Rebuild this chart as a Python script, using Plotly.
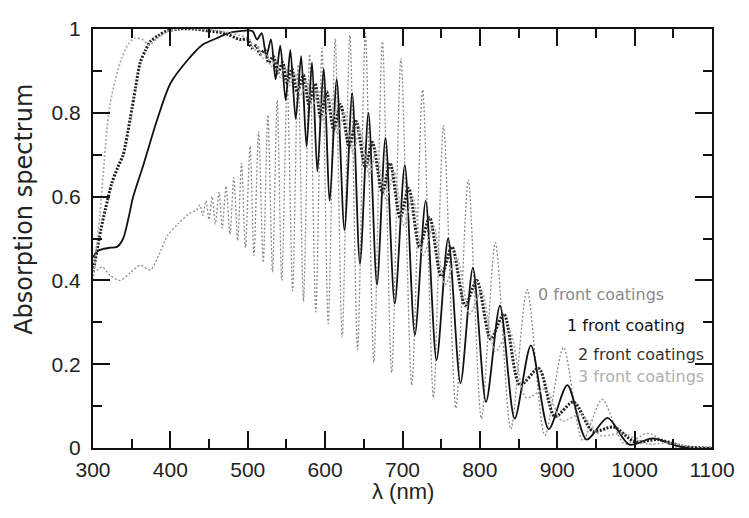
import plotly.graph_objects as go

# ---- data (wavelength nm, absorption) ----
lam0 = [300, 306, 312, 322, 335, 348, 361, 374, 385, 396, 410, 425, 434,
        438, 442, 446, 450, 454, 458, 463, 467, 472, 477, 482, 487, 492, 497,
        503, 508, 514, 520, 526, 532, 538, 544, 551, 558, 565, 572, 580, 588,
        596, 604, 613, 622, 632, 642, 652, 663, 674, 686, 698, 712, 726, 740,
        753, 769, 785, 802, 820, 840, 861, 884, 908, 933, 958, 987, 1017, 1050, 1100]
abs0 = [0.42, 0.425, 0.432, 0.412, 0.40, 0.418, 0.436, 0.425, 0.46, 0.506, 0.535, 0.56, 0.568,
        0.58, 0.555, 0.59, 0.545, 0.60, 0.535, 0.61, 0.525, 0.625, 0.51, 0.645, 0.495, 0.68, 0.478,
        0.72, 0.46, 0.755, 0.443, 0.795, 0.42, 0.83, 0.40, 0.87, 0.375, 0.915, 0.35, 0.94, 0.325,
        0.955, 0.297, 0.977, 0.265, 0.985, 0.235, 0.99, 0.205, 0.97, 0.18, 0.93, 0.15, 0.855, 0.12,
        0.77, 0.095, 0.64, 0.07, 0.49, 0.045, 0.378, 0.03, 0.24, 0.018, 0.116, 0.01, 0.035, 0.004, 0.0]

lam1 = [300, 306, 313, 322, 331, 339, 346, 352, 365, 383, 400, 421, 442, 460, 475, 490,
        506, 512, 518, 524, 530, 536, 542, 549, 555, 562, 569, 576, 583, 590, 598, 606,
        615, 625, 635, 645, 656, 667, 678, 690, 703, 716, 730, 744, 759, 775, 791, 808,
        826, 845, 866, 889, 913, 938, 965, 993, 1023, 1060, 1100]
abs1 = [0.455, 0.47, 0.475, 0.478, 0.48, 0.50, 0.55, 0.60, 0.675, 0.784, 0.87, 0.923, 0.963, 0.978, 0.99, 0.995,
        0.995, 0.975, 0.99, 0.935, 0.975, 0.88, 0.96, 0.83, 0.95, 0.785, 0.935, 0.72, 0.92, 0.66, 0.905, 0.59,
        0.88, 0.52, 0.847, 0.44, 0.80, 0.39, 0.74, 0.345, 0.675, 0.27, 0.59, 0.21, 0.50, 0.155, 0.43, 0.11,
        0.34, 0.07, 0.245, 0.045, 0.15, 0.02, 0.072, 0.008, 0.023, 0.003, 0.0]

lam2 = [300, 305, 310, 316, 324, 332, 339, 348, 355, 361, 368, 374, 385, 395, 410, 430, 450, 470, 490,
        500, 505, 511, 516, 522, 527, 533, 539, 545, 551, 557, 564, 572, 579, 587, 594, 602, 611,
        620, 631, 640, 652, 661, 674, 684, 697, 708, 722, 735, 750, 764, 781, 796, 814, 831, 852,
        876, 897, 921, 946, 973, 1000, 1030, 1065, 1100]
abs2 = [0.42, 0.47, 0.52, 0.57, 0.63, 0.67, 0.70, 0.785, 0.86, 0.92, 0.95, 0.97, 0.985, 0.995, 1.0, 1.0, 0.995, 0.99, 0.975,
        0.975, 0.955, 0.96, 0.94, 0.95, 0.92, 0.935, 0.895, 0.92, 0.87, 0.905, 0.85, 0.89, 0.82, 0.87, 0.79, 0.85, 0.76,
        0.82, 0.72, 0.78, 0.67, 0.73, 0.61, 0.68, 0.55, 0.62, 0.48, 0.55, 0.41, 0.48, 0.34, 0.40, 0.26, 0.32, 0.15,
        0.19, 0.075, 0.11, 0.04, 0.05, 0.015, 0.02, 0.003, 0.0]

lam3 = [300, 305, 309, 313, 318, 322, 329, 337, 346, 354, 364, 372, 383, 395, 410, 440, 465, 490,
        503, 508, 514, 519, 525, 530, 536, 542, 548, 554, 561, 568, 576, 583, 591, 598, 607, 616,
        625, 636, 645, 657, 666, 679, 689, 702, 713, 727, 740, 755, 770, 787, 802, 820, 838, 860,
        885, 906, 930, 956, 986, 1015, 1045, 1075, 1100]
abs3 = [0.40, 0.49, 0.56, 0.65, 0.76, 0.82, 0.88, 0.93, 0.965, 0.978, 0.975, 0.962, 0.977, 0.993, 1.0, 1.0, 0.995, 0.985,
        0.975, 0.95, 0.955, 0.93, 0.94, 0.91, 0.925, 0.885, 0.91, 0.865, 0.895, 0.84, 0.875, 0.81, 0.855, 0.78, 0.835, 0.75,
        0.80, 0.705, 0.76, 0.65, 0.71, 0.59, 0.66, 0.53, 0.60, 0.46, 0.53, 0.39, 0.455, 0.32, 0.375, 0.23, 0.28, 0.12,
        0.14, 0.065, 0.08, 0.03, 0.035, 0.01, 0.012, 0.002, 0.0]

labels = ["0 front coatings", "1 front coating", "2 front coatings", "3 front coatings"]
label_x = [872, 910, 924, 924]
label_y = [0.367, 0.292, 0.222, 0.170]
label_colors = ["#8a8a8a", "#111111", "#333333", "#b0b0b0"]

x_ticks = [300, 400, 500, 600, 700, 800, 900, 1000, 1100]
y_ticks = [0, 0.2, 0.4, 0.6, 0.8, 1]
y_ticktext = ["0", "0.2", "0.4", "0.6", "0.8", "1"]

fig = go.Figure()
styles = [
    dict(color="#8a8a8a", width=1.3, dash="2px,2px"),
    dict(color="#111111", width=1.8, dash="solid"),
    dict(color="#222222", width=3.0, dash="2px,1.5px"),
    dict(color="#a8a8a8", width=1.7, dash="2px,2px"),
]
for lam, ab, st, name in [(lam0, abs0, styles[0], labels[0]), (lam1, abs1, styles[1], labels[1]),
                          (lam2, abs2, styles[2], labels[2]), (lam3, abs3, styles[3], labels[3])]:
    fig.add_trace(go.Scatter(x=lam, y=ab, mode="lines", name=name,
                             line=dict(shape="spline", smoothing=0.8, **st)))

for t, x, y, c in zip(labels, label_x, label_y, label_colors):
    fig.add_annotation(x=x, y=y, xref="x", yref="y", text=t, showarrow=False,
                       xanchor="left", yanchor="middle",
                       font=dict(family="DejaVu Sans, sans-serif", size=16, color=c))

# axis titles
fig.add_annotation(x=0.5, y=-0.105, xref="paper", yref="paper", text="λ (nm)", showarrow=False,
                   xanchor="center", yanchor="middle",
                   font=dict(family="Liberation Sans, sans-serif", size=22, color="#222"))
fig.add_annotation(x=-0.112, y=0.57, xref="paper", yref="paper", text="Absorption spectrum",
                   showarrow=False, textangle=-90, xanchor="center", yanchor="middle",
                   font=dict(family="DejaVu Sans, sans-serif", size=24, color="#222"))

tickfont = dict(family="Liberation Sans, sans-serif", size=21, color="#222")
# page body has an 8px default margin, so the figure is sized to fit inside the window
fig.update_layout(
    width=741, height=510,
    margin=dict(l=85, r=37, t=9, b=70),
    paper_bgcolor="white", plot_bgcolor="white",
    showlegend=False,
    xaxis=dict(range=[300, 1100], tickvals=x_ticks, ticks="inside", ticklen=17, tickwidth=2,
               tickcolor="#111", showline=True, linecolor="#111", linewidth=2, mirror="ticks",
               showgrid=False, zeroline=False, tickfont=tickfont, ticklabelstandoff=2,
               ticklabeloverflow="allow",
               minor=dict(dtick=50, tick0=300, ticks="inside", ticklen=9, tickwidth=2, tickcolor="#111")),
    yaxis=dict(range=[0, 1], tickvals=y_ticks, ticktext=y_ticktext,
               ticks="inside", ticklen=17, tickwidth=2,
               tickcolor="#111", showline=True, linecolor="#111", linewidth=2, mirror="ticks",
               showgrid=False, zeroline=False, tickfont=tickfont, ticklabelstandoff=6,
               ticklabeloverflow="allow",
               minor=dict(dtick=0.1, tick0=0, ticks="inside", ticklen=9, tickwidth=2, tickcolor="#111")),
)
fig.write_html("out.html")
